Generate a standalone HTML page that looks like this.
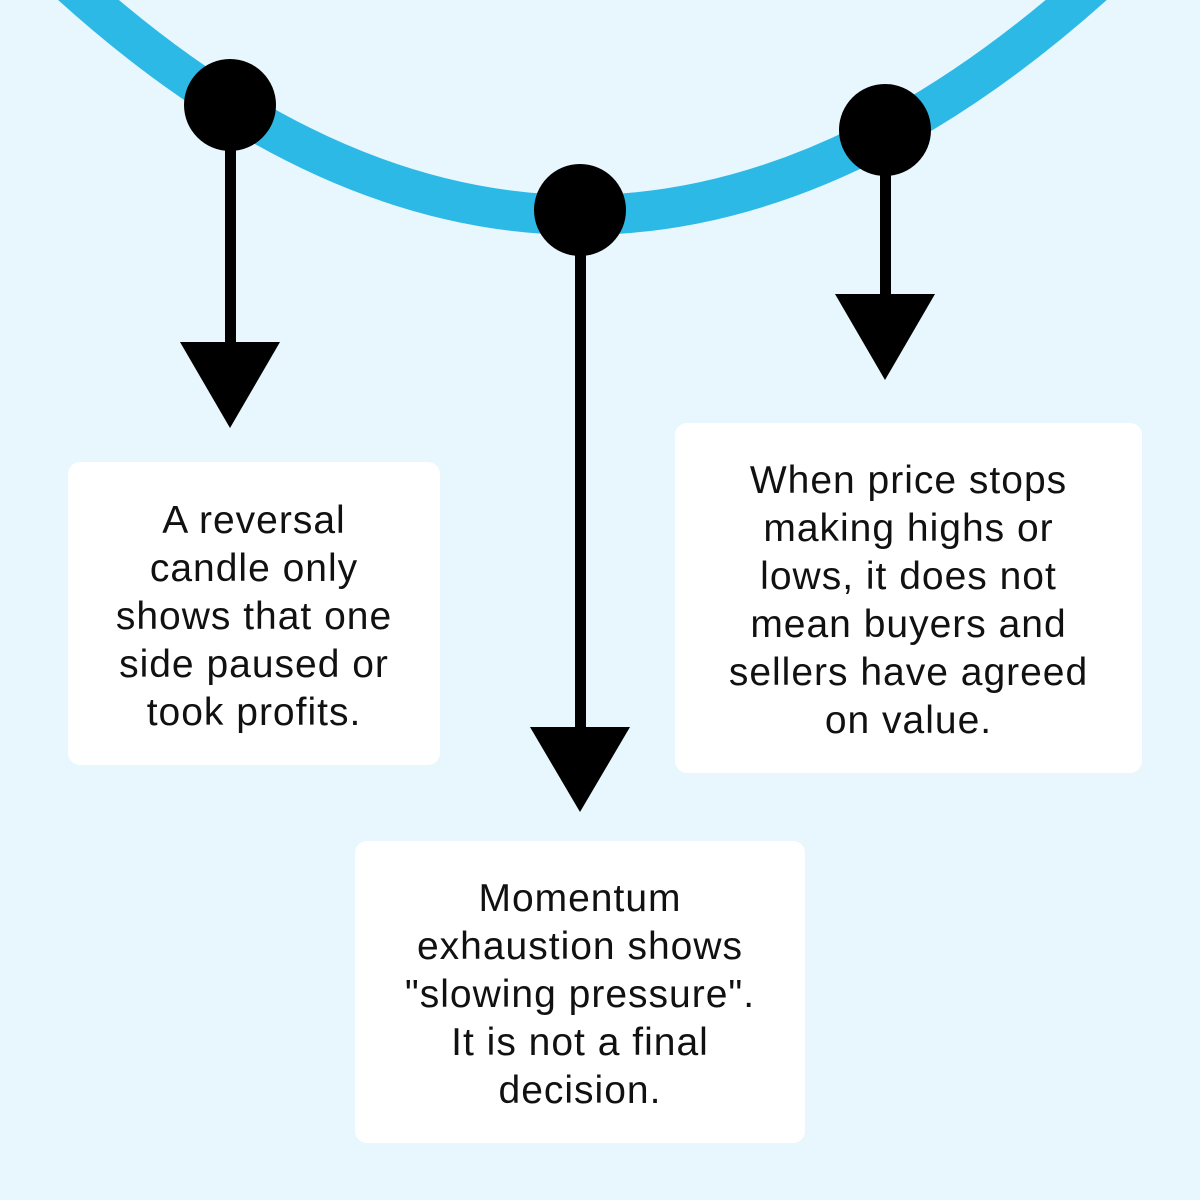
<!DOCTYPE html>
<html><head><style>
html,body{margin:0;padding:0;}
body{width:1200px;height:1200px;background:#e7f7fd;position:relative;overflow:hidden;font-family:"Liberation Sans",sans-serif;}
.box{position:absolute;background:#fff;border-radius:12px;display:flex;align-items:center;justify-content:center;text-align:center;font-size:39px;letter-spacing:1px;line-height:48px;color:#111;padding-top:6px;box-sizing:border-box;}
</style></head><body>
<svg width="1200" height="1200" style="position:absolute;left:0;top:0">
<path d="M 55 -30 Q 580 460 1110 -30" fill="none" stroke="#2cb9e6" stroke-width="40"/>
<rect x="225" y="105" width="11" height="245" fill="#000"/>
<polygon points="180,342 280,342 230,428" fill="#000"/>
<rect x="575" y="210" width="11" height="525" fill="#000"/>
<polygon points="530,727 630,727 580,812" fill="#000"/>
<rect x="880" y="130" width="11" height="170" fill="#000"/>
<polygon points="835,294 935,294 885,380" fill="#000"/>
<circle cx="230" cy="105" r="46" fill="#000"/>
<circle cx="580" cy="210" r="46" fill="#000"/>
<circle cx="885" cy="130" r="46" fill="#000"/>
</svg>
<div class="box" style="left:68px;top:462px;width:372px;height:303px;">A reversal<br>candle only<br>shows that one<br>side paused or<br>took profits.</div>
<div class="box" style="left:355px;top:841px;width:450px;height:302px;">Momentum<br>exhaustion shows<br>"slowing pressure".<br>It is not a final<br>decision.</div>
<div class="box" style="left:675px;top:423px;width:467px;height:350px;">When price stops<br>making highs or<br>lows, it does not<br>mean buyers and<br>sellers have agreed<br>on value.</div>
</body></html>
